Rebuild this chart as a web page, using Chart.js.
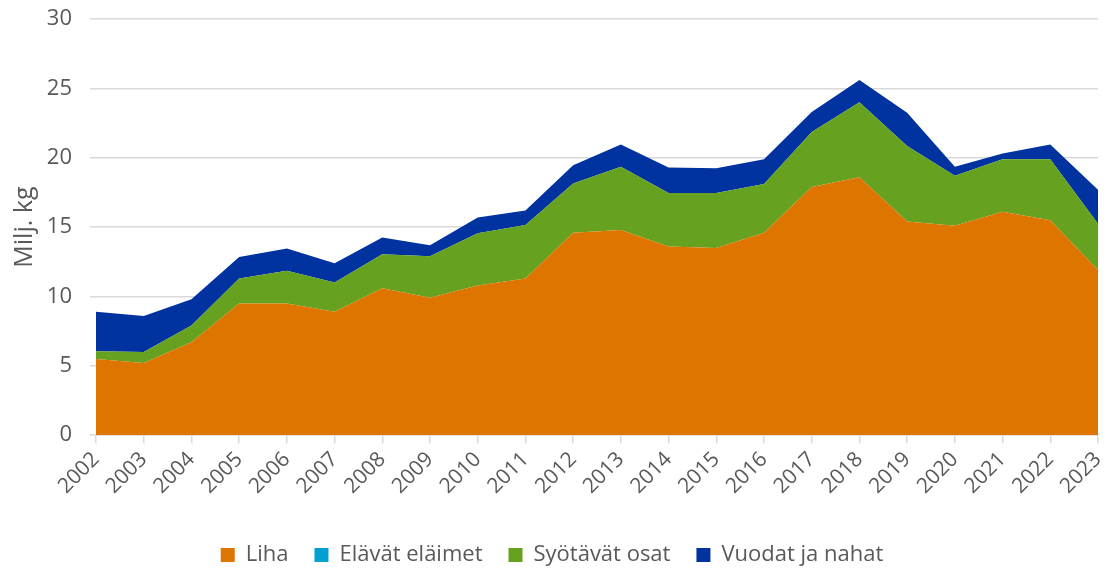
<!DOCTYPE html>
<html>
<head>
<meta charset="utf-8">
<script src="https://cdn.jsdelivr.net/npm/chart.js@4/dist/chart.umd.min.js"></script>
<style>
  body { margin: 0; background: #fff; }
  #wrap { width: 1108px; height: 572px; }
</style>
</head>
<body>
<div id="wrap"><canvas id="chart"></canvas></div>
<script>
const years = ["2002","2003","2004","2005","2006","2007","2008","2009","2010","2011","2012",
  "2013","2014","2015","2016","2017","2018","2019","2020","2021","2022","2023"];

// milj. kg
const liha = [5.5, 5.2, 6.7, 9.5, 9.5, 8.9, 10.6, 9.9, 10.8, 11.3, 14.6,
  14.8, 13.6, 13.5, 14.6, 17.9, 18.6, 15.4, 15.1, 16.1, 15.5, 11.9];
const elavat = [0, 0, 0, 0, 0, 0, 0, 0, 0, 0, 0,
  0, 0, 0, 0, 0, 0, 0, 0, 0, 0, 0];
const syotavat = [0.55, 0.8, 1.2, 1.8, 2.35, 2.1, 2.45, 3.0, 3.75, 3.85, 3.55,
  4.55, 3.85, 3.95, 3.5, 3.95, 5.4, 5.45, 3.6, 3.8, 4.4, 3.35];
const vuodat = [2.85, 2.6, 1.9, 1.55, 1.6, 1.4, 1.2, 0.8, 1.15, 1.05, 1.3,
  1.6, 1.85, 1.8, 1.8, 1.45, 1.6, 2.4, 0.65, 0.4, 1.05, 2.45];

const yTicks = [0, 5, 10, 15, 20, 25, 30];

const textColor = "#595959";
const gridColor = "#d9d9d9";
const fontFamily = "'Open Sans', 'Noto Sans', sans-serif";

function series(label, data, color, fill) {
  return {
    label: label,
    data: data,
    backgroundColor: color,
    borderColor: color,
    borderWidth: 0,
    pointRadius: 0,
    pointHoverRadius: 0,
    fill: fill,
    tension: 0
  };
}

new Chart(document.getElementById("chart"), {
  type: "line",
  data: {
    labels: years,
    datasets: [
      series("Liha", liha, "#de7500", "origin"),
      series("Elävät eläimet", elavat, "#00a0d2", "-1"),
      series("Syötävät osat", syotavat, "#66a11f", "-1"),
      series("Vuodat ja nahat", vuodat, "#0033a0", "-1")
    ]
  },
  options: {
    responsive: true,
    maintainAspectRatio: false,
    animation: false,
    layout: { padding: { left: 6, right: 10, top: 19, bottom: -4 } },
    plugins: {
      tooltip: { enabled: false },
      legend: {
        position: "bottom",
        labels: {
          color: textColor,
          font: { family: fontFamily, size: 22 },
          usePointStyle: true,
          pointStyle: "rect",
          boxWidth: 14,
          boxHeight: 14,
          padding: 26
        }
      }
    },
    scales: {
      x: {
        stacked: true,
        offset: false,
        // no extra side padding for the last rotated label, some space above the legend
        afterFit: (scale) => { scale.paddingRight = 0; scale.height += 15; },
        grid: { drawOnChartArea: false, color: gridColor, tickLength: 8, lineWidth: 1.5 },
        border: { color: gridColor, width: 1.5 },
        ticks: {
          color: textColor,
          font: { family: fontFamily, size: 21 },
          minRotation: 45,
          maxRotation: 45,
          autoSkip: false,
          padding: 4
        }
      },
      y: {
        stacked: true,
        min: 0,
        max: 30,
        afterBuildTicks: (axis) => { axis.ticks = yTicks.map(v => ({ value: v })); },
        afterFit: (scale) => { scale.paddingTop = 0; scale.width = 90; },
        grid: { color: gridColor, lineWidth: 1.5, tickLength: 6 },
        border: { display: false },
        title: {
          display: true,
          text: "Milj. kg",
          color: textColor,
          font: { family: fontFamily, size: 25 },
          padding: { bottom: 4 }
        },
        ticks: {
          color: textColor,
          font: { family: fontFamily, size: 22 },
          padding: 18
        }
      }
    }
  }
});
</script>
</body>
</html>
